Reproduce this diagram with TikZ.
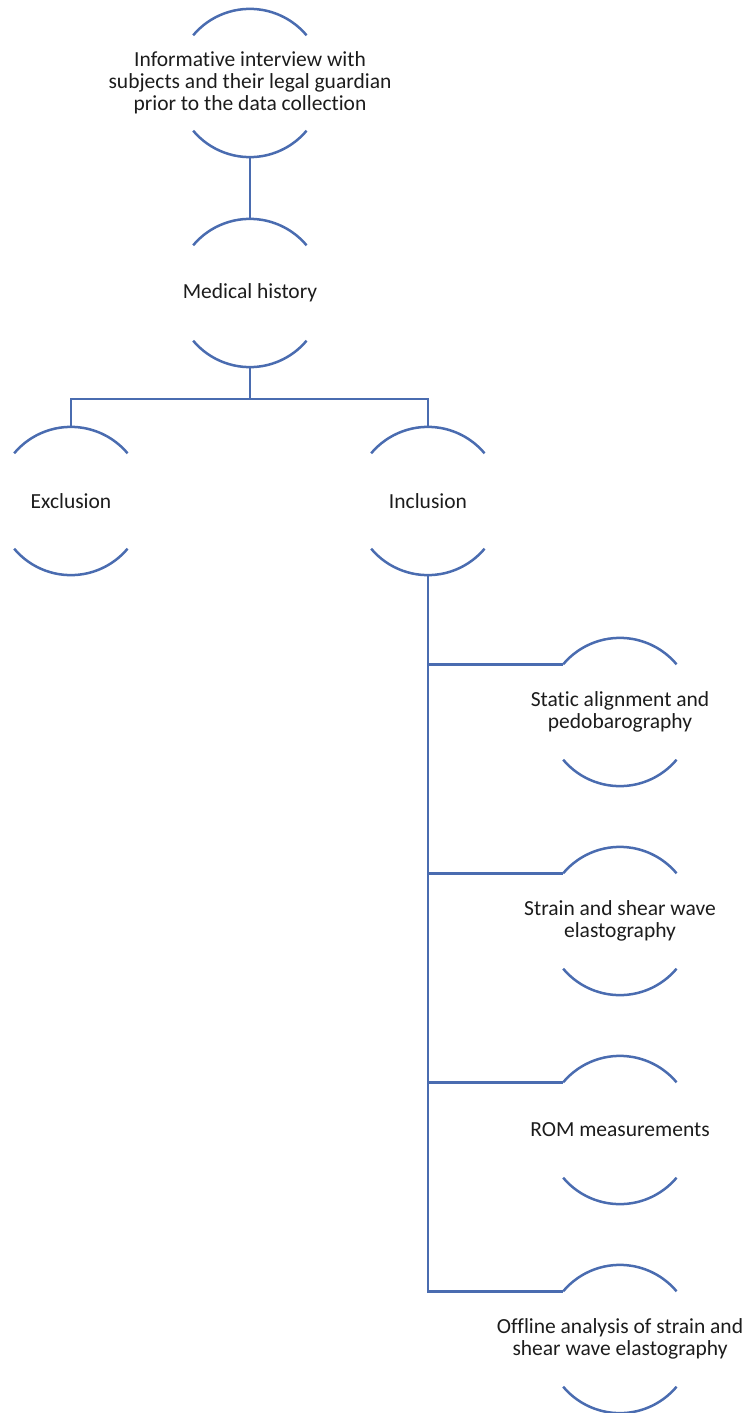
\documentclass[tikz,border=0pt]{standalone}
\usepackage{fontspec}
\setmainfont[Ligatures=NoCommon]{Carlito}
\usepackage{tikz}
\usetikzlibrary{calc}
\usepackage{xcolor}
\definecolor{flowblue}{HTML}{4A6CB0}
\definecolor{inkgray}{HTML}{1C1C1C}

\tikzset{
    ring/.style={circle, draw=none, minimum size=148pt, inner sep=0pt},
    caption/.style={align=center, text=inkgray, font=\fontsize{21.5}{22}\selectfont},
    link/.style={draw=flowblue, line width=2.5pt}
}

\begin{document}
\begin{tikzpicture}[x=1pt, y=1pt]
    \useasboundingbox (0,0) rectangle (749,-1413);

    % stages
    \node[ring] (intv) at (250,-83) {};
    \node[caption] at (intv) {Informative interview with\\subjects and their legal guardian\\prior to the data collection};
    \node[ring] (hist) at (250,-293) {};
    \node[caption] at (hist) {Medical history};
    \node[ring] (excl) at (71,-501) {};
    \node[caption] at (excl) {Exclusion};
    \node[ring] (incl) at (428,-501) {};
    \node[caption] at (incl) {Inclusion};

    \node[ring] (stat) at (620,-712) {};
    \node[caption] at (stat) {Static alignment and\\pedobarography};
    \node[ring] (elas) at (620,-921) {};
    \node[caption] at (elas) {Strain and shear wave\\elastography};
    \node[ring] (rom) at (620,-1130) {};
    \node[caption] at (rom) {ROM measurements};
    \node[ring] (offl) at (620,-1339) {};
    \node[caption] at (offl) {Offline analysis of strain and\\shear wave elastography};

    % open circles: upper and lower arcs only
    \foreach \n in {intv,hist,excl,incl,stat,elas,rom,offl} {
        \draw[link] (\n.140) arc[start angle=140, end angle=40, radius=74pt];
        \draw[link] (\n.220) arc[start angle=220, end angle=320, radius=74pt];
    }

    % connectors
    \coordinate (split) at ($(hist.south)+(0,-32)$);
    \draw[link] (intv.south) -- (hist.north);
    \draw[link] (hist.south) -- (split) -| (excl.north);
    \draw[link] (split) -| (incl.north);
    \foreach \n in {stat,elas,rom,offl}
        \draw[link] (incl.south) |- (\n.140);
\end{tikzpicture}
\end{document}
